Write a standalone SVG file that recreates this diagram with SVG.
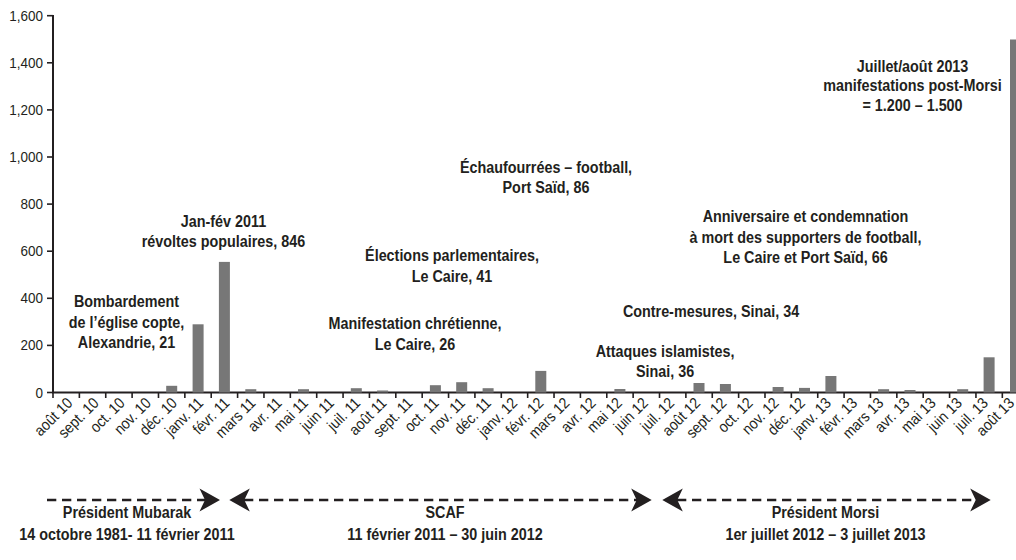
<svg xmlns="http://www.w3.org/2000/svg" width="1016" height="560" viewBox="0 0 1016 560">
<style>
.ax{stroke:#231f20;stroke-width:2;fill:none}
.tk{stroke:#231f20;stroke-width:1.6}
.bar{fill:#777777}
.yl{font-family:"Liberation Sans",Arial,sans-serif;font-size:15px;fill:#231f20;text-anchor:end}
.xl{font-family:"Liberation Sans",Arial,sans-serif;font-size:15.5px;fill:#231f20;text-anchor:end}
.an{font-family:"Liberation Sans",Arial,sans-serif;font-size:17px;font-weight:bold;fill:#231f20;text-anchor:middle}
.dash{stroke:#231f20;stroke-width:2.5;stroke-dasharray:9.3 5.7;fill:none}
.ah{fill:#231f20}
</style>
<rect width="1016" height="560" fill="#ffffff"/>
<g id="axes">
<line class="ax" x1="53" y1="15" x2="53" y2="393"/>
<line class="ax" x1="52" y1="392.5" x2="1016" y2="392.5"/>
<g class="tk">
<line x1="47" y1="392.5" x2="53" y2="392.5"/><line x1="47" y1="345.4" x2="53" y2="345.4"/><line x1="47" y1="298.3" x2="53" y2="298.3"/><line x1="47" y1="251.2" x2="53" y2="251.2"/><line x1="47" y1="204.1" x2="53" y2="204.1"/><line x1="47" y1="157" x2="53" y2="157"/><line x1="47" y1="109.9" x2="53" y2="109.9"/><line x1="47" y1="62.8" x2="53" y2="62.8"/><line x1="47" y1="15.7" x2="53" y2="15.7"/>
</g>
<g class="tk">
<line x1="53" y1="392" x2="53" y2="398"/><line x1="79.37" y1="392" x2="79.37" y2="398"/><line x1="105.74" y1="392" x2="105.74" y2="398"/><line x1="132.11" y1="392" x2="132.11" y2="398"/><line x1="158.48" y1="392" x2="158.48" y2="398"/><line x1="184.85" y1="392" x2="184.85" y2="398"/><line x1="211.22" y1="392" x2="211.22" y2="398"/><line x1="237.59" y1="392" x2="237.59" y2="398"/><line x1="263.96" y1="392" x2="263.96" y2="398"/><line x1="290.33" y1="392" x2="290.33" y2="398"/><line x1="316.7" y1="392" x2="316.7" y2="398"/><line x1="343.07" y1="392" x2="343.07" y2="398"/><line x1="369.44" y1="392" x2="369.44" y2="398"/><line x1="395.81" y1="392" x2="395.81" y2="398"/><line x1="422.18" y1="392" x2="422.18" y2="398"/><line x1="448.55" y1="392" x2="448.55" y2="398"/><line x1="474.92" y1="392" x2="474.92" y2="398"/><line x1="501.29" y1="392" x2="501.29" y2="398"/><line x1="527.66" y1="392" x2="527.66" y2="398"/><line x1="554.03" y1="392" x2="554.03" y2="398"/><line x1="580.4" y1="392" x2="580.4" y2="398"/><line x1="606.77" y1="392" x2="606.77" y2="398"/><line x1="633.14" y1="392" x2="633.14" y2="398"/><line x1="659.51" y1="392" x2="659.51" y2="398"/><line x1="685.88" y1="392" x2="685.88" y2="398"/><line x1="712.25" y1="392" x2="712.25" y2="398"/><line x1="738.62" y1="392" x2="738.62" y2="398"/><line x1="764.99" y1="392" x2="764.99" y2="398"/><line x1="791.36" y1="392" x2="791.36" y2="398"/><line x1="817.73" y1="392" x2="817.73" y2="398"/><line x1="844.1" y1="392" x2="844.1" y2="398"/><line x1="870.47" y1="392" x2="870.47" y2="398"/><line x1="896.84" y1="392" x2="896.84" y2="398"/><line x1="923.21" y1="392" x2="923.21" y2="398"/><line x1="949.58" y1="392" x2="949.58" y2="398"/><line x1="975.95" y1="392" x2="975.95" y2="398"/><line x1="1002.32" y1="392" x2="1002.32" y2="398"/>
</g>
</g>
<g id="y-labels" class="yl">
<text transform="translate(43,397.5) scale(0.9,1)">0</text><text transform="translate(43,350.4) scale(0.9,1)">200</text><text transform="translate(43,303.3) scale(0.9,1)">400</text><text transform="translate(43,256.2) scale(0.9,1)">600</text><text transform="translate(43,209.1) scale(0.9,1)">800</text><text transform="translate(43,162) scale(0.9,1)">1,000</text><text transform="translate(43,114.9) scale(0.9,1)">1,200</text><text transform="translate(43,67.8) scale(0.9,1)">1,400</text><text transform="translate(43,20.7) scale(0.9,1)">1,600</text>
</g>
<g id="bars" class="bar">
<rect x="166.2" y="385.8" width="11" height="6.7"/>
<rect x="192.6" y="324.3" width="11" height="68.2"/>
<rect x="218.9" y="261.9" width="11" height="130.6"/>
<rect x="245.3" y="389.2" width="11" height="3.3"/>
<rect x="298" y="389.2" width="11" height="3.3"/>
<rect x="350.8" y="388.2" width="11" height="4.3"/>
<rect x="377.1" y="390.5" width="11" height="2"/>
<rect x="429.9" y="385.2" width="11" height="7.3"/>
<rect x="456.2" y="382.2" width="11" height="10.3"/>
<rect x="482.6" y="388.2" width="11" height="4.3"/>
<rect x="535.3" y="370.9" width="11" height="21.6"/>
<rect x="614.4" y="389" width="11" height="3.5"/>
<rect x="693.5" y="383" width="11" height="9.5"/>
<rect x="719.9" y="384" width="11" height="8.5"/>
<rect x="772.6" y="387" width="11" height="5.5"/>
<rect x="799" y="387.9" width="11" height="4.6"/>
<rect x="825.4" y="376" width="11" height="16.5"/>
<rect x="878.1" y="389.2" width="11" height="3.3"/>
<rect x="904.5" y="390" width="11" height="2.5"/>
<rect x="957.2" y="389.2" width="11" height="3.3"/>
<rect x="983.6" y="357.3" width="11" height="35.2"/>
<rect x="1010" y="39.5" width="11" height="353"/>
</g>
<g id="x-labels" class="xl">
<text transform="translate(73.5,404) rotate(-45) scale(0.9,1)">août 10</text>
<text transform="translate(99.7,404) rotate(-45) scale(0.9,1)">sept. 10</text>
<text transform="translate(125.8,404) rotate(-45) scale(0.9,1)">oct. 10</text>
<text transform="translate(152,404) rotate(-45) scale(0.9,1)">nov. 10</text>
<text transform="translate(178.1,404) rotate(-45) scale(0.9,1)">déc. 10</text>
<text transform="translate(204.3,404) rotate(-45) scale(0.9,1)">janv. 11</text>
<text transform="translate(230.5,404) rotate(-45) scale(0.9,1)">févr. 11</text>
<text transform="translate(256.6,404) rotate(-45) scale(0.9,1)">mars 11</text>
<text transform="translate(282.8,404) rotate(-45) scale(0.9,1)">avr. 11</text>
<text transform="translate(308.9,404) rotate(-45) scale(0.9,1)">mai 11</text>
<text transform="translate(335.1,404) rotate(-45) scale(0.9,1)">juin 11</text>
<text transform="translate(361.3,404) rotate(-45) scale(0.9,1)">juil. 11</text>
<text transform="translate(387.4,404) rotate(-45) scale(0.9,1)">août 11</text>
<text transform="translate(413.6,404) rotate(-45) scale(0.9,1)">sept. 11</text>
<text transform="translate(439.7,404) rotate(-45) scale(0.9,1)">oct. 11</text>
<text transform="translate(465.9,404) rotate(-45) scale(0.9,1)">nov. 11</text>
<text transform="translate(492.1,404) rotate(-45) scale(0.9,1)">déc. 11</text>
<text transform="translate(518.2,404) rotate(-45) scale(0.9,1)">janv. 12</text>
<text transform="translate(544.4,404) rotate(-45) scale(0.9,1)">févr. 12</text>
<text transform="translate(570.5,404) rotate(-45) scale(0.9,1)">mars 12</text>
<text transform="translate(596.7,404) rotate(-45) scale(0.9,1)">avr. 12</text>
<text transform="translate(622.9,404) rotate(-45) scale(0.9,1)">mai 12</text>
<text transform="translate(649,404) rotate(-45) scale(0.9,1)">juin 12</text>
<text transform="translate(675.2,404) rotate(-45) scale(0.9,1)">juil. 12</text>
<text transform="translate(701.3,404) rotate(-45) scale(0.9,1)">août 12</text>
<text transform="translate(727.5,404) rotate(-45) scale(0.9,1)">sept. 12</text>
<text transform="translate(753.7,404) rotate(-45) scale(0.9,1)">oct. 12</text>
<text transform="translate(779.8,404) rotate(-45) scale(0.9,1)">nov. 12</text>
<text transform="translate(806,404) rotate(-45) scale(0.9,1)">déc. 12</text>
<text transform="translate(832.1,404) rotate(-45) scale(0.9,1)">janv. 13</text>
<text transform="translate(858.3,404) rotate(-45) scale(0.9,1)">févr. 13</text>
<text transform="translate(884.5,404) rotate(-45) scale(0.9,1)">mars 13</text>
<text transform="translate(910.6,404) rotate(-45) scale(0.9,1)">avr. 13</text>
<text transform="translate(936.8,404) rotate(-45) scale(0.9,1)">mai 13</text>
<text transform="translate(962.9,404) rotate(-45) scale(0.9,1)">juin 13</text>
<text transform="translate(989.1,404) rotate(-45) scale(0.9,1)">juil. 13</text>
<text transform="translate(1015.3,404) rotate(-45) scale(0.9,1)">août 13</text>
</g>
<g id="annotations" class="an">
<g id="n-bombardement"><text transform="translate(126.5,307.3) scale(0.845,1)">Bombardement</text><text transform="translate(126.5,327.8) scale(0.845,1)">de l’église copte,</text><text transform="translate(126.5,348.3) scale(0.845,1)">Alexandrie, 21</text></g>
<g id="n-janfev"><text transform="translate(223.5,227.3) scale(0.845,1)">Jan-fév 2011</text><text transform="translate(223.5,247.3) scale(0.845,1)">révoltes populaires, 846</text></g>
<g id="n-elections"><text transform="translate(452,260.7) scale(0.845,1)">Élections parlementaires,</text><text transform="translate(452,281.7) scale(0.845,1)">Le Caire, 41</text></g>
<g id="n-manifestation"><text transform="translate(415,329.3) scale(0.845,1)">Manifestation chrétienne,</text><text transform="translate(415,350) scale(0.845,1)">Le Caire, 26</text></g>
<g id="n-echauffourees"><text transform="translate(546,172.5) scale(0.845,1)">Échaufourrées – football,</text><text transform="translate(546,193.3) scale(0.845,1)">Port Saïd, 86</text></g>
<g id="n-anniversaire"><text transform="translate(805.5,221.7) scale(0.845,1)">Anniversaire et condemnation</text><text transform="translate(805.5,242.5) scale(0.845,1)">à mort des supporters de football,</text><text transform="translate(805.5,263.3) scale(0.845,1)">Le Caire et Port Saïd, 66</text></g>
<g id="n-contre"><text transform="translate(711,316.7) scale(0.845,1)">Contre-mesures, Sinai, 34</text></g>
<g id="n-attaques"><text transform="translate(665,356.7) scale(0.845,1)">Attaques islamistes,</text><text transform="translate(665,377.3) scale(0.845,1)">Sinai, 36</text></g>
<g id="n-juillet"><text transform="translate(912.5,71.7) scale(0.845,1)">Juillet/août 2013</text><text transform="translate(912.5,91.2) scale(0.845,1)">manifestations post-Morsi</text><text transform="translate(912.5,110.5) scale(0.845,1)">= 1.200 – 1.500</text></g>
</g>
<g id="connectors">
<line class="dash" x1="47" y1="500" x2="205" y2="500"/>
<polygon class="ah" points="220,500 199.5,488.5 205,500 199.5,511.5"/>
<line class="dash" x1="244" y1="500" x2="637" y2="500"/>
<polygon class="ah" points="229.3,500 249.8,488.5 244.3,500 249.8,511.5"/>
<polygon class="ah" points="651.7,500 631.2,488.5 636.7,500 631.2,511.5"/>
<line class="dash" x1="677" y1="500" x2="976" y2="500"/>
<polygon class="ah" points="662.3,500 682.8,488.5 677.3,500 682.8,511.5"/>
<polygon class="ah" points="990.7,500 970.2,488.5 975.7,500 970.2,511.5"/>
</g>
<g id="periods" class="an">
<g id="p-mubarak"><text transform="translate(127,518.3) scale(0.845,1)">Président Mubarak</text><text transform="translate(127,540) scale(0.845,1)">14 octobre 1981- 11 février 2011</text></g>
<g id="p-scaf"><text transform="translate(445,518.3) scale(0.845,1)">SCAF</text><text transform="translate(445,540) scale(0.845,1)">11 février 2011 – 30 juin 2012</text></g>
<g id="p-morsi"><text transform="translate(825.5,518.3) scale(0.845,1)">Président Morsi</text><text transform="translate(825.5,540) scale(0.845,1)">1er juillet 2012 – 3 juillet 2013</text></g>
</g>
</svg>
